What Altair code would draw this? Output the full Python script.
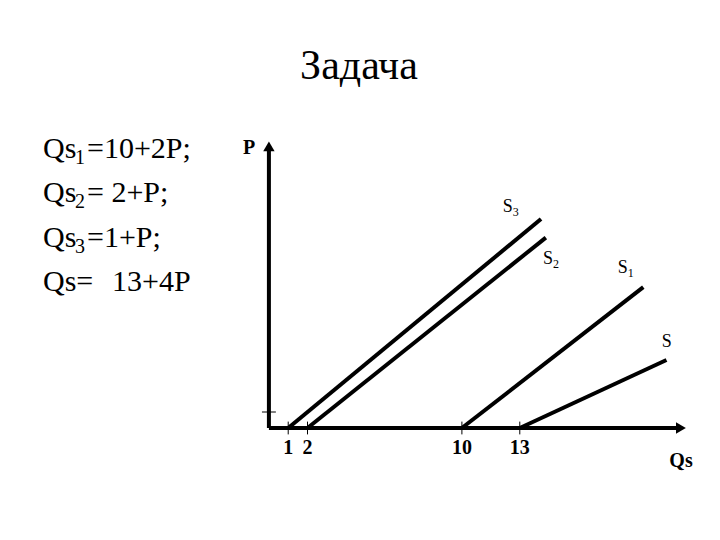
import altair as alt
import pandas as pd

# ---- data ----
curves = ["S3", "S2", "S1", "S"]
curve_main = ["S", "S", "S", "S"]
curve_sub = ["3", "2", "1", ""]
start_q = [1, 2, 10, 13]
end_q = [14.1, 14.35, 19.4, 20.6]
end_p = [13.06, 11.9, 8.8, 4.25]
label_q = [12.12, 14.2, 18.08, 20.36]
label_p = [13.5, 10.25, 9.69, 5.06]

tick_q = [1, 2, 10, 13]
tick_labels = ["1", "2", "10", "13"]
p_ticks = [1]
axis_q_max = 21.7
axis_p_max = 18.0

eq_main = ["Qs", "Qs", "Qs"]
eq_sub = ["1", "2", "3"]
eq_rest = ["=10+2P;", "= 2+P;", "=1+P;"]
eq_last_a = "Qs="
eq_last_b = "13+4P"
title_text = "Задача"

FONT = "Liberation Serif"

# ---- tables ----
line_rows = []
for c, q0, q1, p1 in zip(curves, start_q, end_q, end_p):
    line_rows.append({"curve": c, "q": q0, "p": 0})
    line_rows.append({"curve": c, "q": q1, "p": p1})
lines_df = pd.DataFrame(line_rows)

labels_df = pd.DataFrame({"main": curve_main, "sub": curve_sub, "q": label_q, "p": label_p})
ticks_df = pd.DataFrame({"q": tick_q, "label": tick_labels})
pticks_df = pd.DataFrame({"p": p_ticks})
axes_df = pd.DataFrame({"q": [0, 0], "q2": [0, axis_q_max - 0.4],
                        "p": [0, 0], "p2": [axis_p_max - 0.5, 0]})
arrow_x_df = pd.DataFrame({"q": [axis_q_max - 0.35], "p": [0]})
arrow_y_df = pd.DataFrame({"q": [0], "p": [axis_p_max - 0.4]})

xs = alt.Scale(domain=[-13.52, 22.96], nice=False, zero=False)
ys = alt.Scale(domain=[-6.5, 26.25], nice=False, zero=False)
X = lambda f: alt.X(f, type="quantitative", scale=xs, axis=None)
Y = lambda f: alt.Y(f, type="quantitative", scale=ys, axis=None)

base_lines = alt.Chart(lines_df).mark_line(color="black", strokeWidth=4).encode(
    x=X("q"), y=Y("p"), detail="curve:N")

axes = alt.Chart(axes_df).mark_rule(color="black", strokeWidth=4).encode(
    x=X("q"), x2="q2", y=Y("p"), y2="p2")

arrow_x = alt.Chart(arrow_x_df).mark_point(shape="triangle-right", filled=True, color="black",
                                            size=130, opacity=1).encode(x=X("q"), y=Y("p"))
arrow_y = alt.Chart(arrow_y_df).mark_point(shape="triangle-up", filled=True, color="black",
                                            size=130, opacity=1).encode(x=X("q"), y=Y("p"))

tick_marks = alt.Chart(ticks_df).transform_calculate(lo="-0.4", hi="0.4").mark_rule(
    color="black", strokeWidth=1).encode(x=X("q"), y=Y("lo:Q"), y2="hi:Q")
ptick_marks = alt.Chart(pticks_df).transform_calculate(lo="-0.36", hi="0.36").mark_rule(
    color="black", strokeWidth=1).encode(y=Y("p"), x=X("lo:Q"), x2="hi:Q")

tick_text = alt.Chart(ticks_df).transform_calculate(ly="-1.25").mark_text(
    font=FONT, fontSize=20, fontWeight="bold", baseline="middle", align="center").encode(
    x=X("q"), y=Y("ly:Q"), text="label:N")

s_main = alt.Chart(labels_df).mark_text(font=FONT, fontSize=18, align="left",
                                        baseline="alphabetic").encode(
    x=X("q"), y=Y("p"), text="main:N")
s_sub = alt.Chart(labels_df).mark_text(font=FONT, fontSize=12, align="left",
                                       baseline="alphabetic", dx=10, dy=4).encode(
    x=X("q"), y=Y("p"), text="sub:N")

def txt(s, x, y, size, bold=False, align="left", baseline="alphabetic"):
    kw = dict(font=FONT, fontSize=size, align=align, baseline=baseline)
    if bold:
        kw["fontWeight"] = "bold"
    return alt.Chart(pd.DataFrame({"t": [s]})).mark_text(**kw).encode(
        x=alt.value(x), y=alt.value(y), text="t:N")

texts = [
    txt(title_text, 351, 71, 42, align="center"),
    txt("P", 241, 140, 20, bold=True, align="center", baseline="middle"),
    txt("Qs", 673, 453, 20, bold=True, align="center", baseline="middle"),
]
baselines = [150, 194, 239]
for m, s, r, b in zip(eq_main, eq_sub, eq_rest, baselines):
    texts.append(txt(m, 35, b, 30))
    texts.append(txt(s, 67, b + 6, 20))
    texts.append(txt(r, 79, b, 30))
texts.append(txt(eq_last_a, 35, 283, 30))
texts.append(txt(eq_last_b, 104, 283, 30))

chart = alt.layer(
    axes, arrow_x, arrow_y, tick_marks, ptick_marks, base_lines, tick_text, s_main, s_sub, *texts
).properties(width=704, height=524, autosize=alt.AutoSizeParams(type="none"),
             padding=0).configure_view(stroke=None)

chart.save("out.html", embed_options={"renderer": "svg", "actions": False})
